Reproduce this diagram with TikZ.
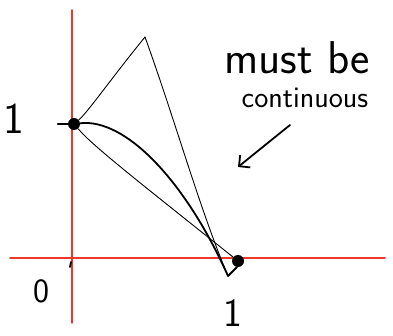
\documentclass[tikz,border=0pt]{standalone}
\usetikzlibrary{arrows.meta}
\definecolor{axisred}{RGB}{238,56,40}
\begin{document}
\begin{tikzpicture}[x=1pt,y=-1pt,line cap=round,line join=round,
  axis/.style={draw=axisred,line width=1.6pt},
  ink/.style={line width=1.8pt},
  thinink/.style={line width=0.9pt},
  dot/.style={circle,fill,inner sep=0pt,minimum size=12pt},
  hand/.style={font=\sffamily\fontsize{#1}{#1}\selectfont,inner sep=0pt}]
  \useasboundingbox (0,0) rectangle (393,336);
  \draw[axis] (72,10) -- (72,323);
  \draw[axis] (10,258) -- (385,258);
  \node[dot] (A) at (74,124) {};
  \node[dot] (B) at (238,261) {};
  \coordinate (P) at (145,37);
  \coordinate (V) at (228,276);
  \coordinate (C) at (237,267);
  \draw[thinink] (A) .. controls (88,112) and (110,80) .. (P);
  \draw[thinink] (P) .. controls (175,120) and (200,210) .. (V);
  \draw[ink] (A) .. controls (125,118) and (185,180) .. (V);
  \draw[ink] (V) -- (C);
  \draw[thinink] (A) .. controls (92,145) and (130,175) .. (B);
  \draw[ink] (A.west) -- ++(-10,0);
  \draw[ink] (71,262) -- (70,267);
  \node[hand=44] (ylab) at (14,119) {1};
  \node[hand=34] (olab) at (41,291) {0};
  \node[hand=40] (xlab) at (233,313) {1};
  \node[hand=46,anchor=base] (must) at (297,74) {must be};
  \node[hand=30,anchor=base] (cont) at (305,108) {continuous};
  \coordinate (tail) at (290,125);
  \coordinate (tip) at (238,167);
  \draw[ink,-{Straight Barb[length=8pt,width=16pt]}] (tail) -- (tip);
\end{tikzpicture}
\end{document}
